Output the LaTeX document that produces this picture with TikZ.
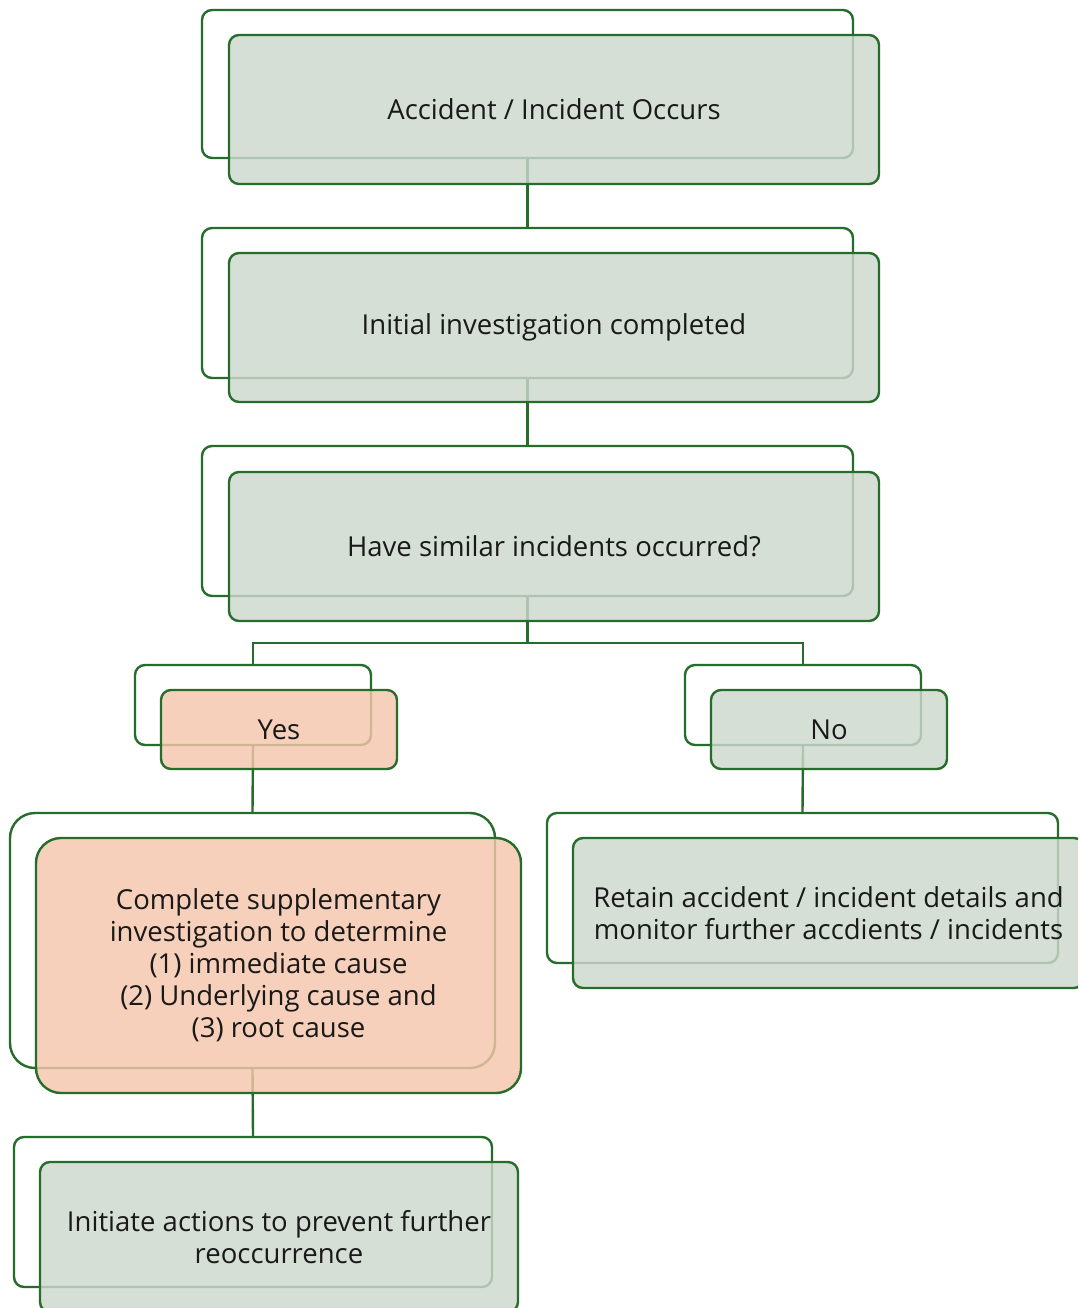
\documentclass[tikz,border=0pt]{standalone}
\usepackage{fontspec}
\setmainfont{Open Sans}
\definecolor{edgegreen}{RGB}{38,108,42}
\definecolor{boxgray}{RGB}{206,216,206}
\definecolor{boxpeach}{RGB}{245,198,172}
\definecolor{txt}{RGB}{25,25,25}
\begin{document}
\begin{tikzpicture}[x=1pt,y=-1pt,
  backframe/.style={draw=edgegreen,line width=2.4pt,rounded corners=10pt,inner sep=0pt,
    minimum width=#1},
  frontbox/.style={draw=edgegreen,line width=2.4pt,rounded corners=10pt,inner sep=0pt,
    fill=boxgray,fill opacity=0.82,text opacity=1,text=txt,align=center,
    font=\fontsize{27.5}{32}\selectfont,minimum width=#1},
  peach/.style={fill=boxpeach},
  link/.style={draw=edgegreen,line width=2.4pt}]
\useasboundingbox (0,0) rectangle (1078,1308);
\clip (0,0) rectangle (1078,1308);
\fill[white] (0,0) rectangle (1078,1308);
% back frames
\node[backframe=651pt,minimum height=148pt] (b1) at (527.5,84) {};
\node[backframe=651pt,minimum height=150pt] (b2) at (527.5,303) {};
\node[backframe=651pt,minimum height=150pt] (b3) at (527.5,521) {};
\node[backframe=236pt,minimum height=80pt] (byes) at (253,705) {};
\node[backframe=236pt,minimum height=80pt] (bno) at (803,705) {};
\node[backframe=485pt,minimum height=255pt,rounded corners=25pt] (bcomp) at (252.5,940.5) {};
\node[backframe=511pt,minimum height=150pt] (bret) at (802.5,888) {};
\node[backframe=478pt,minimum height=150pt] (binit) at (253,1212) {};
% connectors
\coordinate (split) at (527.5,643);
\draw[link] (b1.south) -- (b2.north);
\draw[link] (b2.south) -- (b3.north);
\draw[link] (b3.south) -- (split);
\draw[link] (split) -| (byes.north);
\draw[link] (split) -| (bno.north);
\draw[link] (byes.south) -- (bcomp.north);
\draw[link] (bno.south) -- (bret.north);
\draw[link] (bcomp.south) -- (binit.north);
% front boxes
\node[frontbox=650pt,minimum height=149pt] (f1) at (554,109.5) {Accident / Incident Occurs};
\node[frontbox=650pt,minimum height=149pt] (f2) at (554,327.5) {Initial investigation completed};
\node[frontbox=650pt,minimum height=149pt] (f3) at (554,546.5) {Have similar incidents occurred?};
\node[frontbox=236pt,minimum height=79pt,peach] (fyes) at (279,729.5) {Yes};
\node[frontbox=236pt,minimum height=79pt] (fno) at (829,729.5) {No};
\node[frontbox=485pt,minimum height=255pt,rounded corners=25pt,peach] (fcomp) at (278.5,965.5)
  {Complete supplementary\\investigation to determine\\(1) immediate cause\\(2) Underlying cause and\\(3) root cause};
\node[frontbox=511pt,minimum height=150pt] (fret) at (828.5,913)
  {Retain accident / incident details and\\monitor further accdients / incidents};
\node[frontbox=478pt,minimum height=150pt] (finit) at (279,1237)
  {Initiate actions to prevent further\\reoccurrence};
\end{tikzpicture}
\end{document}
